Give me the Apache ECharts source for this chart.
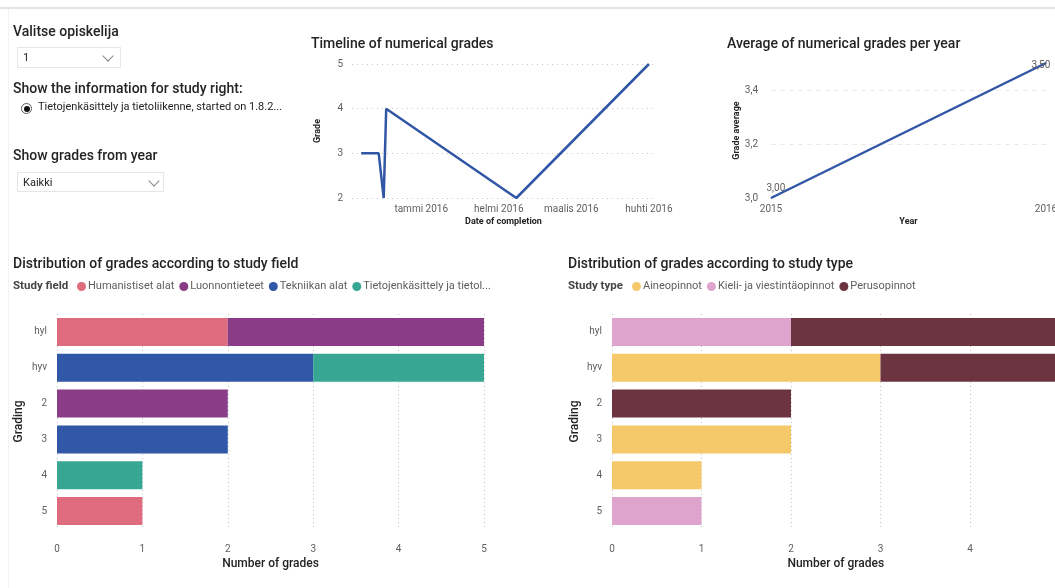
<!DOCTYPE html>
<html>
<head>
<meta charset="utf-8">
<script src="https://cdn.jsdelivr.net/npm/echarts@6/dist/echarts.min.js"></script>
<style>
  html,body{margin:0;padding:0;background:#fff;overflow:hidden;width:1055px;height:588px;}
  body{font-family:Roboto,"Noto Sans",sans-serif;position:relative;}
  #chart{position:absolute;left:0;top:0;width:1110px;height:588px;}
  .topline{position:absolute;left:0;top:7px;width:1055px;height:2px;background:#E4E4E4;}
  .leftline{position:absolute;left:8px;top:9px;width:1px;height:579px;background:#F3F3F3;}
  .hdr{position:absolute;left:13px;font-size:14px;font-weight:500;color:#252423;white-space:nowrap;}
  .box{position:absolute;border:1px solid #E6E6E6;background:#fff;box-sizing:border-box;}
  .box span{position:absolute;left:5px;top:3px;font-size:11px;color:#252423;}
  .chev{position:absolute;width:7px;height:7px;border-right:1px solid #8a8886;border-bottom:1px solid #8a8886;transform:rotate(45deg);}
  .radio{position:absolute;left:21px;top:103px;width:9px;height:9px;border-radius:50%;border:1px solid #605E5C;background:#fff;}
  .radio:after{content:"";position:absolute;left:1.5px;top:1.5px;width:6px;height:6px;border-radius:50%;background:#111;}
  .rtext{position:absolute;left:38px;top:100px;font-size:11px;color:#252423;white-space:nowrap;}
</style>
</head>
<body>
<div id="chart"></div>
<div class="topline"></div>
<div class="leftline"></div>
<div class="hdr" style="top:23px;">Valitse opiskelija</div>
<div class="box" style="left:17px;top:47px;width:104px;height:21px;"><span>1</span><div class="chev" style="left:86px;top:4px;"></div></div>
<div class="hdr" style="top:80px;">Show the information for study right:</div>
<div class="radio"></div>
<div class="rtext">Tietojenkäsittely ja tietoliikenne, started on 1.8.2...</div>
<div class="hdr" style="top:147px;">Show grades from year</div>
<div class="box" style="left:17px;top:172px;width:147px;height:20px;"><span>Kaikki</span><div class="chev" style="left:132px;top:4px;"></div></div>
<script>
// ---------- data ----------
const timelineDates = ['2015-12-08','2015-12-15','2015-12-17','2015-12-18','2016-02-08','2016-04-01'];
const timelineGrades = [3, 3, 2, 4, 2, 5];
const monthTicks = ['2016-01-01','2016-02-01','2016-03-01','2016-04-01'];
const monthLabels = ['tammi 2016','helmi 2016','maalis 2016','huhti 2016'];

const years = ['2015','2016'];
const yearAverages = [3.00, 3.50];

const gradingCategories = ['hyl','hyv','2','3','4','5'];

const fieldNames = ['Humanistiset alat','Luonnontieteet','Tekniikan alat','Tietojenkäsittely ja tietoliikenne'];
const humanistiset   = [2, 0, 0, 0, 0, 1];
const luonnontieteet = [3, 0, 2, 0, 0, 0];
const tekniikan      = [0, 3, 0, 2, 0, 0];
const tietojenk      = [0, 2, 0, 0, 1, 0];

const typeNames = ['Aineopinnot','Kieli- ja viestintäopinnot','Perusopinnot'];
const aineopinnot  = [0, 3, 0, 2, 1, 0];
const kieli        = [2, 0, 0, 0, 0, 1];
const perusopinnot = [3, 2, 2, 0, 0, 0];

// ---------- styles ----------
const FONT = 'Roboto';
const TITLE = '#252423';
const LABEL = '#605E5C';
const fieldColors = ['#DE6B7E','#8A3C87','#3157A7','#37A794'];
const typeColors = ['#F5C869','#DFA4CD','#6C3440'];
const lineColor = '#3156A6';
const avgLabelPositions = [[-4, -14], [-14, -2]];

const toTs = d => new Date(d + 'T00:00:00Z').getTime();
const tsTicks = monthTicks.map(toTs);
const timelineData = timelineDates.map((d, i) => [toTs(d), timelineGrades[i]]);
const fmtFi = (v, n) => v.toFixed(n).replace('.', ',');

const chart = echarts.init(document.getElementById('chart'), null, {renderer: 'canvas'});

function barSeries(names, arrays, colors, axisIdx) {
  return names.map((n, i) => ({
    name: n, type: 'bar', stack: 'st' + axisIdx, xAxisIndex: axisIdx, yAxisIndex: axisIdx,
    data: arrays[i].map(v => v === 0 ? '-' : v),
    barWidth: 28, itemStyle: {color: colors[i]}, emphasis: {disabled: true}
  }));
}

const titleStyle = {fontFamily: FONT, fontSize: 14, fontWeight: 500, color: TITLE};
const axisNameStyle = {fontFamily: FONT, fontSize: 9, fontWeight: 'bold', color: TITLE};
const barAxisNameStyle = {fontFamily: FONT, fontSize: 12, fontWeight: 500, color: TITLE};
const tickLabel = {fontFamily: FONT, fontSize: 10, color: LABEL};
const legendTitleStyle = {fontFamily: FONT, fontSize: 11.5, fontWeight: 'bold', color: '#444'};

const option = {
  animation: false,
  title: [
    {text: 'Timeline of numerical grades', left: 311, top: 37, padding: 0, textStyle: titleStyle},
    {text: 'Average of numerical grades per year', left: 727, top: 37, padding: 0, textStyle: titleStyle},
    {text: 'Distribution of grades according to study field', left: 13, top: 257, padding: 0, textStyle: titleStyle},
    {text: 'Distribution of grades according to study type', left: 568, top: 257, padding: 0, textStyle: titleStyle},
    {text: 'Study field', left: 13, top: 280, padding: 0, textStyle: legendTitleStyle},
    {text: 'Study type', left: 568, top: 280, padding: 0, textStyle: legendTitleStyle}
  ],
  legend: [
    {data: fieldNames, left: 77, top: 281, padding: 0, icon: 'circle', itemWidth: 9, itemHeight: 9, itemGap: 5,
     textStyle: {fontFamily: FONT, fontSize: 11, color: LABEL, padding: [0, 0, 0, -3]},
     formatter: n => n.length > 30 ? n.slice(0, 27) + '...' : n, selectedMode: false},
    {data: typeNames, left: 632, top: 281, padding: 0, icon: 'circle', itemWidth: 9, itemHeight: 9, itemGap: 5,
     textStyle: {fontFamily: FONT, fontSize: 11, color: LABEL, padding: [0, 0, 0, -3]}, selectedMode: false}
  ],
  grid: [
    {left: 352, top: 64, width: 303, height: 134},
    {left: 771, top: 63, width: 275, height: 135},
    {left: 57, top: 314, width: 427, height: 215},
    {left: 612, top: 314, width: 447.5, height: 215}
  ],
  xAxis: [
    {type: 'value', gridIndex: 0,
     min: toTs('2015-12-04') + 8 * 3600e3, max: toTs('2016-04-03') + 10 * 3600e3, scale: true,
     axisLine: {show: false}, axisTick: {show: false, customValues: tsTicks}, splitLine: {show: false},
     axisLabel: Object.assign({}, tickLabel, {customValues: tsTicks, margin: 6,
       formatter: v => { const k = tsTicks.indexOf(v); return k >= 0 ? monthLabels[k] : ''; }}),
     name: 'Date of completion', nameLocation: 'middle', nameGap: 19, nameTextStyle: axisNameStyle},
    {type: 'category', gridIndex: 1, data: years, boundaryGap: false,
     axisLine: {show: false}, axisTick: {show: false},
     axisLabel: Object.assign({}, tickLabel, {margin: 6}),
     name: 'Year', nameLocation: 'middle', nameGap: 19, nameTextStyle: axisNameStyle},
    {type: 'value', gridIndex: 2, min: 0, max: 5, interval: 1,
     axisLine: {show: false}, axisTick: {show: false},
     splitLine: {show: true, lineStyle: {color: '#C4C4C4', type: [1, 3], width: 1}},
     axisLabel: Object.assign({}, tickLabel, {margin: 15}),
     name: 'Number of grades', nameLocation: 'middle', nameGap: 29, nameTextStyle: barAxisNameStyle},
    {type: 'value', gridIndex: 3, min: 0, max: 5, interval: 1,
     axisLine: {show: false}, axisTick: {show: false},
     splitLine: {show: true, lineStyle: {color: '#C4C4C4', type: [1, 3], width: 1}},
     axisLabel: Object.assign({}, tickLabel, {margin: 15}),
     name: 'Number of grades', nameLocation: 'middle', nameGap: 29, nameTextStyle: barAxisNameStyle}
  ],
  yAxis: [
    {type: 'value', gridIndex: 0, min: 2, max: 5, interval: 1,
     axisLine: {show: false}, axisTick: {show: false},
     splitLine: {lineStyle: {color: '#C8C8C8', type: [1, 4], width: 1}},
     axisLabel: Object.assign({}, tickLabel, {margin: 9}),
     name: 'Grade', nameLocation: 'middle', nameRotate: 90, nameGap: 30, nameTextStyle: axisNameStyle},
    {type: 'value', gridIndex: 1, min: 3, max: 3.5, interval: 0.2,
     axisLine: {show: false}, axisTick: {show: false},
     splitLine: {showMinLine: false, showMaxLine: false, lineStyle: {color: '#EAEAEA', type: [5, 4], width: 1}},
     axisLabel: Object.assign({}, tickLabel, {margin: 13, showMaxLabel: false, formatter: v => fmtFi(v, 1)}),
     name: 'Grade average', nameLocation: 'middle', nameRotate: 90, nameGap: 30, nameTextStyle: axisNameStyle},
    {type: 'category', gridIndex: 2, data: gradingCategories, inverse: true,
     axisLine: {show: false}, axisTick: {show: false},
     axisLabel: Object.assign({}, tickLabel, {margin: 10}),
     name: 'Grading', nameLocation: 'middle', nameRotate: 90, nameGap: 32, nameTextStyle: barAxisNameStyle},
    {type: 'category', gridIndex: 3, data: gradingCategories, inverse: true,
     axisLine: {show: false}, axisTick: {show: false},
     axisLabel: Object.assign({}, tickLabel, {margin: 10}),
     name: 'Grading', nameLocation: 'middle', nameRotate: 90, nameGap: 31, nameTextStyle: barAxisNameStyle}
  ],
  series: [
    {type: 'line', xAxisIndex: 0, yAxisIndex: 0, data: timelineData, showSymbol: false,
     lineStyle: {color: lineColor, width: 2.5}, emphasis: {disabled: true}},
    {type: 'line', xAxisIndex: 1, yAxisIndex: 1, showSymbol: true, symbol: 'circle', symbolSize: 1,
     itemStyle: {color: lineColor},
     data: yearAverages.map((v, i) => ({value: v, label: {position: avgLabelPositions[i]}})),
     label: {show: true, formatter: p => fmtFi(p.value, 2), fontFamily: FONT, fontSize: 10, color: LABEL},
     labelLayout: {hideOverlap: false},
     lineStyle: {color: lineColor, width: 2.5}, emphasis: {disabled: true}}
  ].concat(
    barSeries(fieldNames, [humanistiset, luonnontieteet, tekniikan, tietojenk], fieldColors, 2),
    barSeries(typeNames, [aineopinnot, kieli, perusopinnot], typeColors, 3)
  )
};
chart.setOption(option);
</script>
</body>
</html>
